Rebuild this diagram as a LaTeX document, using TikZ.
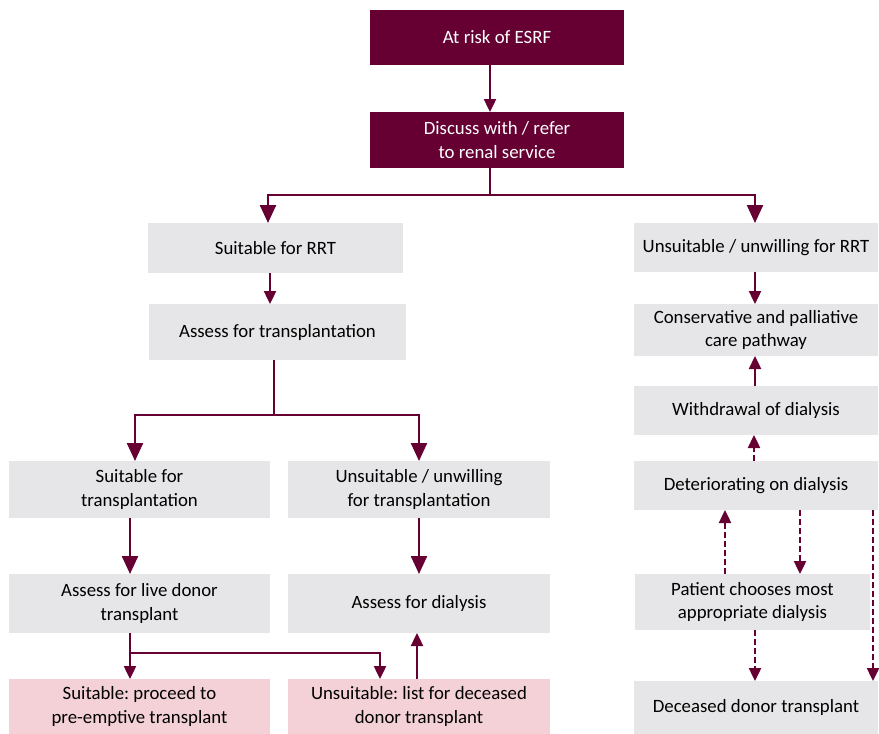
\documentclass[tikz,border=0pt]{standalone}
\usepackage{fontspec}
\setmainfont{Carlito}
\usetikzlibrary{arrows.meta,calc}
\definecolor{wine}{HTML}{660033}
\definecolor{boxgrey}{HTML}{E6E6E8}
\definecolor{boxpink}{HTML}{F3D1D7}
\frenchspacing
\begin{document}
\begin{tikzpicture}[x=1pt,y=-1pt,
  every node/.style={inner sep=0pt,outer sep=0pt,align=center,font=\fontsize{18.8}{23.5}\selectfont},
  greybox/.style={fill=boxgrey,text=black},
  pinkbox/.style={fill=boxpink,text=black},
  conn/.style={draw=wine,line width=2.4pt},
  bigarr/.style={conn,-{Triangle[length=18pt,width=16pt]}},
  smallarr/.style={conn,-{Triangle[length=13pt,width=12pt]}},
  dasharr/.style={conn,dash pattern=on 6pt off 3pt,-{Triangle[length=13pt,width=12pt]}}]
\useasboundingbox (0,0) rectangle (879,734);
% dark boxes
\node[fill=wine,text=white,minimum width=254pt,minimum height=55pt] (esrf) at (497,37.5) {At risk of ESRF};
\node[fill=wine,text=white,minimum width=254pt,minimum height=56pt] (disc) at (497,140) {Discuss with / refer\\to renal service};
% left column
\node[greybox,minimum width=255pt,minimum height=50pt] (rrt) at (275.5,248) {Suitable for RRT};
\node[greybox,minimum width=257pt,minimum height=56pt] (assess) at (277.5,332) {Assess for transplantation};
\node[greybox,minimum width=261pt,minimum height=57pt] (st) at (139.5,489.5) {Suitable for\\transplantation};
\node[greybox,minimum width=262pt,minimum height=57pt] (ut) at (419,489.5) {Unsuitable / unwilling\\for transplantation};
\node[greybox,minimum width=261pt,minimum height=59pt] (live) at (139.5,603.5) {Assess for live donor\\transplant};
\node[greybox,minimum width=262pt,minimum height=59pt] (dial) at (419,603.5) {Assess for dialysis};
\node[pinkbox,minimum width=261pt,minimum height=55pt] (pro) at (139.5,706.5) {Suitable: proceed to\\pre-emptive transplant};
\node[pinkbox,minimum width=262pt,minimum height=55pt] (list) at (419,706.5) {Unsuitable: list for deceased\\donor transplant};
% right column
\node[greybox,minimum width=244pt,minimum height=49pt] (urrt) at (756,247.5) {Unsuitable / unwilling for RRT};
\node[greybox,minimum width=244pt,minimum height=52pt] (cons) at (756,330) {Conservative and palliative\\care pathway};
\node[greybox,minimum width=244pt,minimum height=49pt] (wd) at (756,410.5) {Withdrawal of dialysis};
\node[greybox,minimum width=244pt,minimum height=49pt] (det) at (756,485.5) {Deteriorating on dialysis};
\node[greybox,minimum width=235pt,minimum height=56pt] (pat) at (752.5,602) {Patient chooses most\\appropriate dialysis};
\node[greybox,minimum width=244pt,minimum height=53pt] (dec) at (756,707.5) {Deceased donor transplant};
% connectors
\draw[smallarr] ([xshift=-7pt]esrf.south) -- ([xshift=-7pt]disc.north);
\coordinate (split1) at ($([xshift=-7pt]disc.south)+(0,27)$);
\draw[conn] ([xshift=-7pt]disc.south) -- (split1);
\draw[bigarr] (split1) -| ([xshift=-7.5pt]rrt.north);
\draw[bigarr] (split1) -| ([xshift=-1pt]urrt.north);
\draw[smallarr] ([xshift=-5.5pt]rrt.south) -- ([xshift=-7.5pt]assess.north);
\coordinate (split2) at ($([xshift=-3.5pt]assess.south)+(0,55)$);
\draw[conn] ([xshift=-3.5pt]assess.south) -- (split2);
\draw[bigarr] (split2) -| ([xshift=-4.5pt]st.north);
\draw[bigarr] (split2) -| (ut.north);
\draw[bigarr] ([xshift=-9.5pt]st.south) -- ([xshift=-9.5pt]live.north);
\draw[bigarr] (ut.south) -- (dial.north);
\coordinate (split3) at ($([xshift=-9.5pt]live.south)+(0,20)$);
\draw[smallarr] ([xshift=-9.5pt]live.south) -- ([xshift=-9.5pt]pro.north);
\draw[smallarr] (split3) -| ([xshift=-39pt]list.north);
\draw[smallarr] ([xshift=-2pt]list.north) -- ([xshift=-2pt]dial.south);
\draw[smallarr] ([xshift=-1pt]urrt.south) -- ([xshift=-1pt]cons.north);
\draw[smallarr] ([xshift=-1pt]wd.north) -- ([xshift=-1pt]cons.south);
\draw[dasharr] ([xshift=-2pt]det.north) -- ([xshift=-2pt]wd.south);
\draw[dasharr] ([xshift=-27.5pt]pat.north) -- ([xshift=-31pt]det.south);
\draw[dasharr] ([xshift=44pt]det.south) -- ([xshift=47.5pt]pat.north);
\draw[dasharr] ([xshift=117pt]det.south) -- ([xshift=117pt]dec.north);
\draw[dasharr] ([xshift=2.5pt]pat.south) -- ([xshift=-1pt]dec.north);
\end{tikzpicture}
\end{document}
